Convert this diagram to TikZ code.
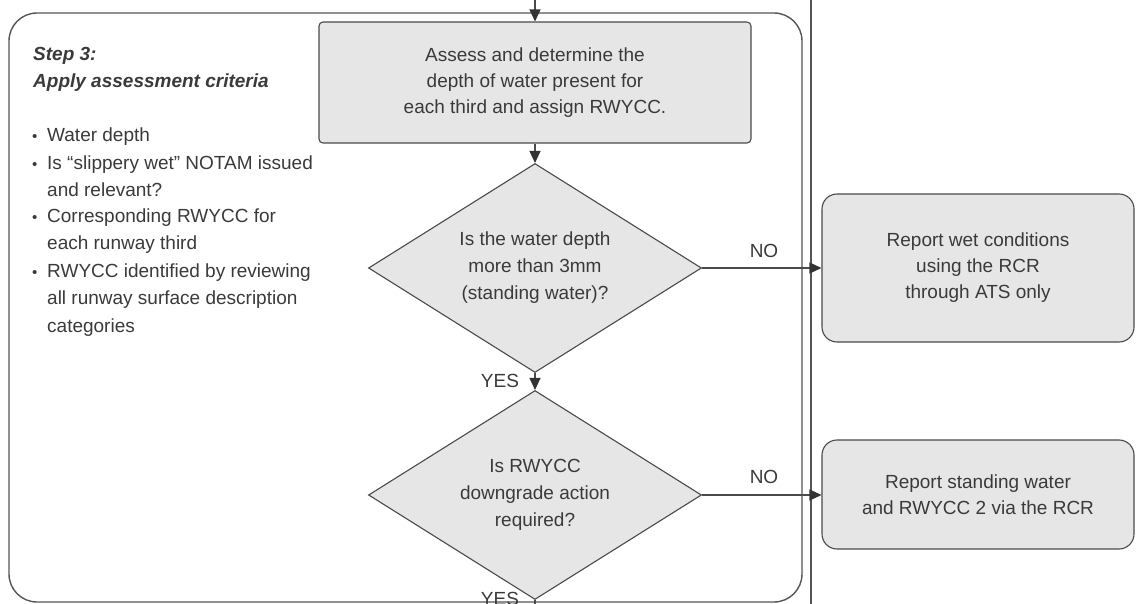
\documentclass[tikz,border=0pt]{standalone}
\usepackage{fontspec}
\setmainfont{Liberation Sans}
\usetikzlibrary{shapes.geometric,arrows.meta}
\definecolor{ink}{HTML}{3A3A3A}
\definecolor{edge}{HTML}{4A4A4A}
\definecolor{tip}{HTML}{333333}
\definecolor{frame}{HTML}{555555}
\definecolor{boxfill}{HTML}{E6E6E6}
\tikzset{
  txt/.style={font=\fontsize{19}{26}\selectfont, text=ink},
  procbox/.style={txt, draw=edge, line width=1.1pt, fill=boxfill,
    rounded corners=4pt, align=center, inner sep=0pt},
  reportbox/.style={procbox, rounded corners=15pt},
  decision/.style={txt, diamond, shape aspect=1.6, draw=edge, line width=1.1pt,
    fill=boxfill, align=center, inner sep=0pt,
    minimum width=333pt, minimum height=209pt,
    font=\fontsize{19}{27}\selectfont},
  flow/.style={draw=edge, line width=1.2pt,
    -{Triangle[length=12pt,width=11pt,color=tip]}},
  lbl/.style={txt, inner sep=0pt},
  side/.style={txt, anchor=base west, inner sep=0pt},
  sidehead/.style={side, font=\fontsize{19}{27}\selectfont\bfseries\itshape},
  dot/.style={side, font=\fontsize{15}{27}\selectfont},
}
\begin{document}
\begin{tikzpicture}[x=1pt,y=-1pt]
\useasboundingbox (0,0) rectangle (1136,604);

% step frame and lane divider
\draw[draw=frame, line width=1.4pt, rounded corners=28pt] (9,13) rectangle (802,602);
\draw[draw=frame, line width=1.4pt] (811,-2) -- (811,606);

% step description
\node[sidehead] (h1) at (33,61) {Step 3:};
\node[sidehead] (h2) at (33,88) {Apply assessment criteria};

\node[dot] (b1) at (32,142) {\textbullet};
\node[side] (t1) at (47,142) {Water depth};
\node[dot] (b2) at (32,170) {\textbullet};
\node[side] (t2) at (47,170) {Is “slippery wet” NOTAM issued};
\node[side] (t2b) at (47,197) {and relevant?};
\node[dot] (b3) at (32,223) {\textbullet};
\node[side] (t3) at (47,223) {Corresponding RWYCC for};
\node[side] (t3b) at (47,250) {each runway third};
\node[dot] (b4) at (32,278) {\textbullet};
\node[side] (t4) at (47,278) {RWYCC identified by reviewing};
\node[side] (t4b) at (47,305) {all runway surface description};
\node[side] (t4c) at (47,332) {categories};

% flow nodes
\node[procbox, minimum width=432pt, minimum height=121pt] (assess) at (535,82.5)
  {Assess and determine the\\depth of water present for\\each third and assign RWYCC.};
\node[decision] (depth) at (535,268)
  {Is the water depth\\more than 3mm\\(standing water)?};
\node[decision] (dgr) at (535,495)
  {Is RWYCC\\downgrade action\\required?};
\node[reportbox, minimum width=312pt, minimum height=148pt] (wet) at (978,268)
  {Report wet conditions\\using the RCR\\through ATS only};
\node[reportbox, minimum width=312pt, minimum height=109pt] (stand) at (978,494.5)
  {Report standing water\\and RWYCC 2 via the RCR};

% connectors
\coordinate (entry) at (535,-2);
\coordinate (exit) at (535,630);
\draw[flow] (entry) -- (assess.north);
\draw[flow] (assess.south) -- (depth.north);
\draw[flow] (depth.south) -- (dgr.north);
\draw[flow] (dgr.south) -- (exit);
\draw[flow] (depth.east) -- (depth.east -| wet.west);
\draw[flow] (dgr.east) -- (dgr.east -| stand.west);

% branch labels
\node[lbl] (yes1) at (500,381) {YES};
\node[lbl] (yes2) at (500,599) {YES};
\node[lbl] (no1) at (764,251) {NO};
\node[lbl] (no2) at (764,477) {NO};
\end{tikzpicture}
\end{document}
